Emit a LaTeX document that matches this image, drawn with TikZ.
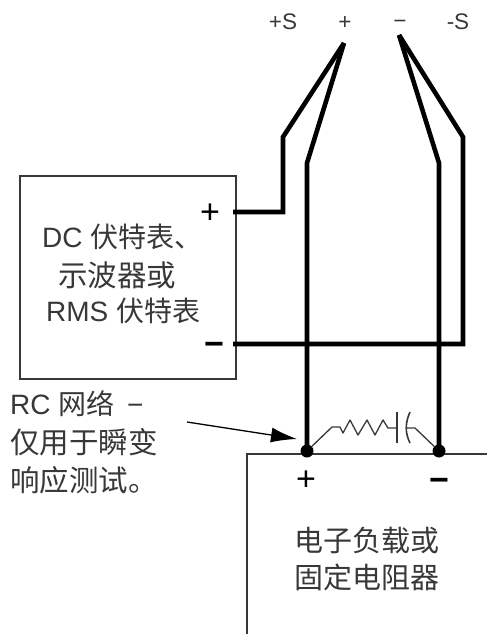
\documentclass[tikz,border=0pt]{standalone}
\usepackage{xcolor}
\usepackage{fontspec}
\setmainfont{Liberation Sans}
\newfontfamily\cjk{Noto Sans CJK SC}
\definecolor{inkgray}{gray}{0.22}
\tikzset{
	boxline/.style={draw=inkgray, line width=1.5pt},
	wire/.style={draw=black, line width=4.6pt, line join=miter},
	rcline/.style={draw=inkgray, line width=1.3pt},
	lbl/.style={anchor=west, inner sep=0pt, text=inkgray, font=\fontsize{29.5}{29.5}\selectfont},
	mixlbl/.style={lbl, font=\fontsize{28}{28}\selectfont},
	ctrlbl/.style={anchor=center, inner sep=0pt, text=inkgray, font=\fontsize{29}{29}\selectfont},
	termlbl/.style={anchor=center, inner sep=0pt, text=inkgray, font=\fontsize{22.5}{22.5}\selectfont},
	signlbl/.style={anchor=center, inner sep=0pt, text=black, font=\fontsize{34}{34}\selectfont},
	barlbl/.style={signlbl, font=\fontsize{34}{34}\selectfont\bfseries},
	solder/.style={circle, fill=black, inner sep=0pt, minimum size=13pt},
}
\usetikzlibrary{arrows.meta}
\begin{document}
\begin{tikzpicture}[x=1pt, y=-1pt]
\useasboundingbox (0, 0) rectangle (487, 634);

% meter box and load box (the load runs off the page)
\draw[boxline] (20, 176) rectangle (236, 379);
\draw[boxline] (247, 634) -- (247, 454) -- (487, 454);

% sense terminals on top
\node[termlbl] (senseplus) at (283, 22) {+S};
\node[termlbl] (plus) at (345, 23) {+};
\node[termlbl] (minus) at (400, 24) {−};
\node[termlbl] (senseminus) at (458, 22) {-S};

\coordinate (tipplus) at (344, 43);
\coordinate (tipminus) at (399, 35);
\coordinate (meterplus) at (233, 212);
\coordinate (meterminus) at (233, 344);
\coordinate (bendsp) at (283, 137);
\coordinate (bendp) at (307, 163);
\coordinate (bendm) at (439, 163);
\coordinate (bendsm) at (463, 137);

\node[solder] (dotplus) at (307, 451) {};
\node[solder] (dotminus) at (439, 451) {};

% wires
\draw[wire] (meterplus) -- (283, 212) -- (bendsp) -- (tipplus);
\draw[wire] (dotplus.center) -- (bendp) -- (tipplus);
\draw[wire] (dotminus.center) -- (bendm) -- (tipminus);
\draw[wire] (meterminus) -- (463, 344) -- (bendsm) -- (tipminus);

% RC network
\draw[rcline, line join=round] (dotplus) -- (332, 427) -- (340, 427) -- (343, 433) -- (350, 420)
	-- (358, 435) -- (367, 420) -- (375, 435) -- (383, 420) -- (388, 428) -- (397, 428);
\draw[rcline, line width=1.8pt] (397, 412) -- (397, 443);
\draw[rcline, line width=1.6pt] (410, 412) .. controls (405, 423) and (405, 433) .. (410, 443);
\draw[rcline, line join=round] (406, 428) -- (415, 428) -- (dotminus);

% meter labels
\node[signlbl] (meterplussign) at (210, 214) {+};
\node[barlbl] (meterminussign) at (214, 349) {−};
\node[mixlbl] (meterone) at (42, 237) {DC {\cjk 伏特表、}};
\node[lbl] (metertwo) at (58, 275) {\cjk 示波器或};
\node[mixlbl] (meterthree) at (46, 311) {RMS {\cjk 伏特表}};

% RC note and its arrow
\node[mixlbl] (noteone) at (10, 404) {RC {\cjk 网络}\hspace{5pt} −};
\node[lbl] (notetwo) at (10, 442) {\cjk 仅用于瞬变};
\node[lbl] (notethree) at (10, 480) {\cjk 响应测试。};
\coordinate (notetail) at (187, 422);
\coordinate (notetip) at (297, 439);
\draw[draw=black, line width=1.3pt, -{Latex[length=26pt, width=15pt]}] (notetail) -- (notetip);

% load labels
\node[signlbl] (loadplussign) at (306, 481) {+};
\node[barlbl] (loadminussign) at (439, 485) {−};
\node[ctrlbl] (loadone) at (367, 540) {\cjk 电子负载或};
\node[ctrlbl] (loadtwo) at (367, 577) {\cjk 固定电阻器};
\end{tikzpicture}
\end{document}
